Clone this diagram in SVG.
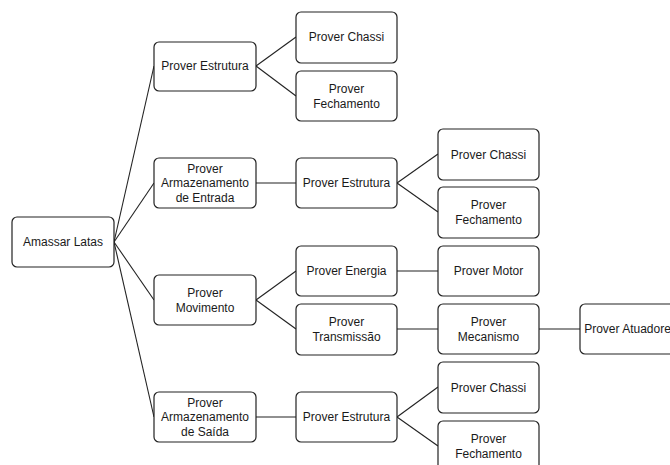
<svg xmlns="http://www.w3.org/2000/svg" width="670" height="465" viewBox="0 0 670 465">
<style>
.b{fill:#fff;stroke:#222;stroke-width:1.2}
.t{font-family:"Liberation Sans",Arial,sans-serif;font-size:12px;fill:#1a1a1a;text-anchor:middle;dominant-baseline:central}
.c line{stroke:#222;stroke-width:1.1}
</style>
<rect width="670" height="465" fill="#fff"/>
<g class="c" id="connectors">
<line x1="114" y1="242" x2="154" y2="66"/>
<line x1="114" y1="242" x2="154" y2="183"/>
<line x1="114" y1="242" x2="154" y2="300"/>
<line x1="114" y1="242" x2="154" y2="417"/>
<line x1="256" y1="66" x2="296" y2="37"/>
<line x1="256" y1="66" x2="296" y2="96"/>
<line x1="256" y1="183" x2="296" y2="183"/>
<line x1="397" y1="183" x2="438" y2="154"/>
<line x1="397" y1="183" x2="438" y2="212"/>
<line x1="256" y1="300" x2="296" y2="271"/>
<line x1="256" y1="300" x2="296" y2="329"/>
<line x1="397" y1="271" x2="438" y2="271"/>
<line x1="397" y1="329" x2="438" y2="329"/>
<line x1="539" y1="329" x2="580" y2="329"/>
<line x1="256" y1="417" x2="296" y2="417"/>
<line x1="397" y1="417" x2="438" y2="387"/>
<line x1="397" y1="417" x2="438" y2="446"/>
</g>
<g id="n-amassar"><rect class="b" x="12" y="217" width="102" height="50" rx="5"/><text class="t" x="63" y="242">Amassar Latas</text></g>
<g id="n-estrutura1"><rect class="b" x="154" y="42" width="102" height="49" rx="5"/><text class="t" x="205" y="66">Prover Estrutura</text></g>
<g id="n-chassi1"><rect class="b" x="296" y="12" width="101" height="51" rx="5"/><text class="t" x="346.500" y="37">Prover Chassi</text></g>
<g id="n-fechamento1"><rect class="b" x="296" y="71" width="101" height="50" rx="5"/><text class="t" x="346.500" y="88.500">Prover</text><text class="t" x="346.500" y="103.500">Fechamento</text></g>
<g id="n-armentrada"><rect class="b" x="154" y="158" width="102" height="50" rx="5"/><text class="t" x="205" y="168.500">Prover</text><text class="t" x="205" y="183">Armazenamento</text><text class="t" x="205" y="197.500">de Entrada</text></g>
<g id="n-estrutura2"><rect class="b" x="296" y="158" width="101" height="50" rx="5"/><text class="t" x="346.500" y="183">Prover Estrutura</text></g>
<g id="n-chassi2"><rect class="b" x="438" y="129" width="101" height="51" rx="5"/><text class="t" x="488.500" y="154.500">Prover Chassi</text></g>
<g id="n-fechamento2"><rect class="b" x="438" y="187" width="101" height="51" rx="5"/><text class="t" x="488.500" y="205">Prover</text><text class="t" x="488.500" y="220">Fechamento</text></g>
<g id="n-movimento"><rect class="b" x="154" y="275" width="102" height="50" rx="5"/><text class="t" x="205" y="292.500">Prover</text><text class="t" x="205" y="307.500">Movimento</text></g>
<g id="n-energia"><rect class="b" x="296" y="246" width="101" height="50" rx="5"/><text class="t" x="346.500" y="271">Prover Energia</text></g>
<g id="n-transmissao"><rect class="b" x="296" y="304" width="101" height="51" rx="5"/><text class="t" x="346.500" y="322">Prover</text><text class="t" x="346.500" y="337">Transmissão</text></g>
<g id="n-motor"><rect class="b" x="438" y="246" width="101" height="50" rx="5"/><text class="t" x="488.500" y="271">Prover Motor</text></g>
<g id="n-mecanismo"><rect class="b" x="438" y="304" width="101" height="50" rx="5"/><text class="t" x="488.500" y="321.500">Prover</text><text class="t" x="488.500" y="336.500">Mecanismo</text></g>
<g id="n-atuadores"><rect class="b" x="580" y="304" width="101" height="50" rx="5"/><text class="t" x="630.500" y="329">Prover Atuadores</text></g>
<g id="n-armsaida"><rect class="b" x="154" y="392" width="102" height="50" rx="5"/><text class="t" x="205" y="402.500">Prover</text><text class="t" x="205" y="417">Armazenamento</text><text class="t" x="205" y="431.500">de Saída</text></g>
<g id="n-estrutura3"><rect class="b" x="296" y="392" width="101" height="50" rx="5"/><text class="t" x="346.500" y="417">Prover Estrutura</text></g>
<g id="n-chassi3"><rect class="b" x="438" y="362" width="101" height="51" rx="5"/><text class="t" x="488.500" y="387.500">Prover Chassi</text></g>
<g id="n-fechamento3"><rect class="b" x="438" y="421" width="101" height="51" rx="5"/><text class="t" x="488.500" y="438.500">Prover</text><text class="t" x="488.500" y="453.500">Fechamento</text></g>
</svg>
